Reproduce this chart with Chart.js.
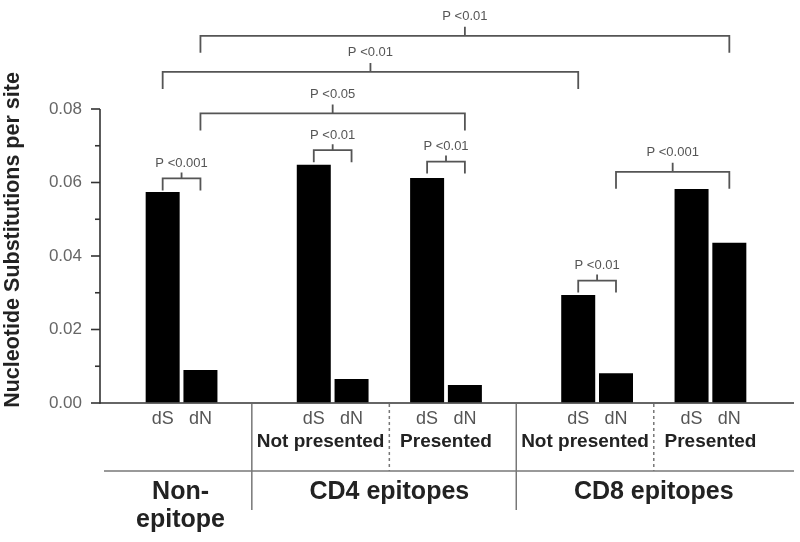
<!DOCTYPE html>
<html>
<head>
<meta charset="utf-8">
<script src="https://cdn.jsdelivr.net/npm/chart.js@4.4.1/dist/chart.umd.min.js"></script>
<style>
  html, body { margin: 0; padding: 0; background: #fff; }
  #wrap { width: 800px; height: 542px; position: relative; }
</style>
</head>
<body>
<div id="wrap"><canvas id="c" width="800" height="542"></canvas></div>
<script>
// ---- data ----
const categories = ['', 'dS', 'dN', '', '', 'dS', 'dN', '', 'dS', 'dN', '', '', 'dS', 'dN', '', 'dS', 'dN', ''];
const substitutionRates = [null, 0.0574, 0.0090, null, null, 0.0648, 0.0065, null, 0.0612, 0.0049, null, null, 0.0294, 0.0081, null, 0.0582, 0.0436, null];
const yTickValues = [0, 0.02, 0.04, 0.06, 0.08];
const yAxisTitle = 'Nucleotide Substitutions per site';
// subgroups: [dS index, dN index, label]
const subgroups = [[5, 6, 'Not presented'], [8, 9, 'Presented'], [12, 13, 'Not presented'], [15, 16, 'Presented']];
// groups: [first index, last index, label lines]
const groups = [[1, 2, ['Non-', 'epitope']], [5, 9, ['CD4 epitopes']], [12, 16, ['CD8 epitopes']]];
// comparisons: [from index, to index, bracket level (y units), label]
const comparisons = [
  [2, 16, 0.0999, 'P <0.01'],
  [1, 12, 0.0901, 'P <0.01'],
  [2, 9, 0.0788, 'P <0.05'],
  [1, 2, 0.0611, 'P <0.001'],
  [5, 6, 0.0688, 'P <0.01'],
  [8, 9, 0.0657, 'P <0.01'],
  [13, 16, 0.0629, 'P <0.001'],
  [12, 13, 0.0333, 'P <0.01']
];

const FONT = '"Liberation Sans", Arial, Helvetica, sans-serif';

const decor = {
  id: 'decor',
  afterDraw(chart) {
    const ctx = chart.ctx;
    const ys = chart.scales.y, xs = chart.scales.x;
    const bx = i => xs.getPixelForValue(i);
    const slot = bx(1) - bx(0);
    const ca = chart.chartArea;
    const axisX = ca.left - 6;
    const y0 = ys.getPixelForValue(0);
    ctx.save();
    // y axis
    ctx.strokeStyle = '#333';
    ctx.lineWidth = 1.6;
    ctx.beginPath();
    ctx.moveTo(axisX, ys.getPixelForValue(0.08));
    ctx.lineTo(axisX, y0 + 0.8);
    ctx.stroke();
    for (let k = 0; k < yTickValues.length; k++) {
      const v = yTickValues[k];
      const p = ys.getPixelForValue(v);
      ctx.beginPath(); ctx.moveTo(axisX - 9, p); ctx.lineTo(axisX, p); ctx.stroke();
      if (k < yTickValues.length - 1) {
        const pm = ys.getPixelForValue((v + yTickValues[k + 1]) / 2);
        ctx.beginPath(); ctx.moveTo(axisX - 5, pm); ctx.lineTo(axisX, pm); ctx.stroke();
      }
    }
    // x axis
    ctx.beginPath();
    ctx.moveTo(axisX, y0);
    ctx.lineTo(ca.right + 8, y0);
    ctx.stroke();

    // y title
    ctx.save();
    ctx.translate(13, 240);
    ctx.rotate(-Math.PI / 2);
    ctx.fillStyle = '#222';
    ctx.font = 'bold 21.5px ' + FONT;
    ctx.textAlign = 'center';
    ctx.textBaseline = 'middle';
    ctx.fillText(yAxisTitle, 0, 0);
    ctx.restore();

    // separators
    const hLineY = y0 + 68;
    ctx.strokeStyle = '#999';
    ctx.lineWidth = 2;
    ctx.beginPath();
    ctx.moveTo(axisX + 4, hLineY);
    ctx.lineTo(ca.right + 8, hLineY);
    ctx.stroke();
    ctx.strokeStyle = '#777';
    ctx.lineWidth = 1.5;
    const solidSeps = [];
    for (let g = 1; g < groups.length; g++) {
      const sx = bx(groups[g - 1][1]) + slot * 1.36;
      solidSeps.push(sx);
      ctx.beginPath(); ctx.moveTo(sx, y0 + 1); ctx.lineTo(sx, y0 + 107); ctx.stroke();
    }
    ctx.setLineDash([3, 3]);
    const dashSeps = [];
    for (let s = 0; s < subgroups.length; s += 2) {
      const dx = bx(subgroups[s][1]) + slot;
      dashSeps.push(dx);
      ctx.beginPath(); ctx.moveTo(dx, y0 + 1); ctx.lineTo(dx, hLineY); ctx.stroke();
    }
    ctx.setLineDash([]);

    // subgroup labels
    ctx.fillStyle = '#222';
    ctx.font = 'bold 19px ' + FONT;
    ctx.textAlign = 'center';
    ctx.textBaseline = 'middle';
    subgroups.forEach((sg, k) => {
      const left = (k % 2 === 0) ? solidSeps[Math.floor(k / 2)] : dashSeps[Math.floor(k / 2)];
      const right = (k % 2 === 0) ? dashSeps[Math.floor(k / 2)] : bx(sg[1]) + slot;
      ctx.fillText(sg[2], (left + right) / 2, y0 + 39);
    });

    // group labels
    ctx.font = 'bold 25px ' + FONT;
    groups.forEach((g, k) => {
      let cx;
      if (g[2].length > 1) cx = (bx(g[0]) + bx(g[1])) / 2 - 1;
      else cx = dashSeps[k - 1];
      g[2].forEach((line, li) => ctx.fillText(line, cx, y0 + 89 + li * 28));
    });

    // comparison brackets
    ctx.strokeStyle = '#555';
    ctx.lineWidth = 1.8;
    ctx.fillStyle = '#555';
    ctx.font = '13px ' + FONT;
    comparisons.forEach(c => {
      const x1 = bx(c[0]), x2 = bx(c[1]);
      const py = ys.getPixelForValue(c[2]);
      const adjacent = (c[1] - c[0]) === 1;
      const leg = adjacent ? 12 : 17;
      const tick = adjacent ? 6 : 9;
      const mid = (x1 + x2) / 2;
      ctx.beginPath();
      ctx.moveTo(x1, py + leg); ctx.lineTo(x1, py); ctx.lineTo(x2, py); ctx.lineTo(x2, py + leg);
      ctx.moveTo(mid, py); ctx.lineTo(mid, py - tick);
      ctx.stroke();
      ctx.fillText(c[3], mid, py - tick - (adjacent ? 9 : 10));
    });
    ctx.restore();
  }
};

new Chart(document.getElementById('c'), {
  type: 'bar',
  data: {
    labels: categories,
    datasets: [{
      data: substitutionRates,
      backgroundColor: '#000',
      borderWidth: 0,
      barPercentage: 0.9,
      categoryPercentage: 1.0
    }]
  },
  options: {
    responsive: false,
    animation: false,
    devicePixelRatio: 1,
    layout: { padding: { top: 109, right: 14, left: 0, bottom: 0 } },
    plugins: { legend: { display: false }, tooltip: { enabled: false } },
    scales: {
      x: {
        offset: true,
        grid: { display: false, drawTicks: false },
        border: { display: false },
        ticks: {
          autoSkip: false, maxRotation: 0, padding: 5,
          color: '#555', font: { family: FONT, size: 18 }
        },
        afterFit(scale) { scale.height = 139; }
      },
      y: {
        min: 0, max: 0.08,
        grid: { drawOnChartArea: false, drawTicks: true, tickLength: 21, color: 'rgba(0,0,0,0)' },
        border: { display: false },
        ticks: {
          stepSize: 0.02, padding: 3,
          color: '#666', font: { family: FONT, size: 17 },
          callback: v => Number(v).toFixed(2)
        },
        afterFit(scale) { scale.width = 106; }
      }
    }
  },
  plugins: [decor]
});
</script>
</body>
</html>
